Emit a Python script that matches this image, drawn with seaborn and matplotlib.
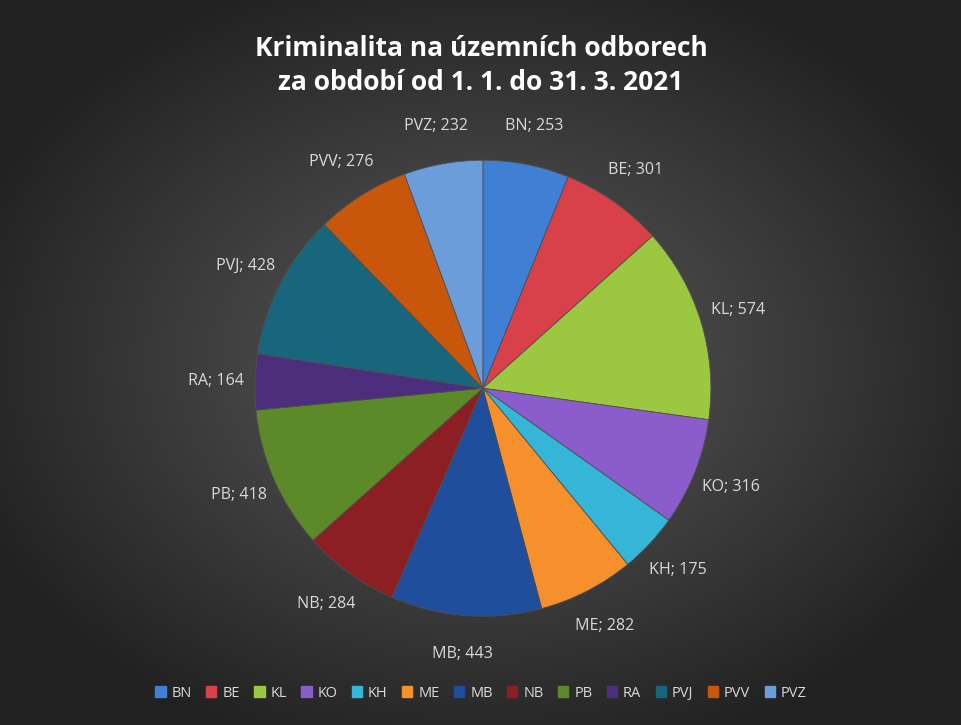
import numpy as np
import matplotlib
matplotlib.use("Agg")
import matplotlib.pyplot as plt
import seaborn as sns
from matplotlib.patches import Patch

categories = ["BN", "BE", "KL", "KO", "KH", "ME", "MB", "NB", "PB", "RA", "PVJ", "PVV", "PVZ"]
values = [253, 301, 574, 316, 175, 282, 443, 284, 418, 164, 428, 276, 232]
colors = ["#3f7fd4", "#d8404a", "#9cc741", "#8b5ccb", "#35b6d8", "#f5902c", "#1f4f9c",
          "#8c1f24", "#5d8a29", "#4c2e7c", "#17667c", "#c9570b", "#6c9ddb"]

sns.set_theme(style="white")
fig = plt.figure(figsize=(9.62, 7.25), dpi=100)

# radial gradient background
bg = fig.add_axes([0, 0, 1, 1])
yy, xx = np.mgrid[-1:1:400j, -1:1:530j]
r = np.sqrt(xx**2 + yy**2)
g = np.clip(0.36 - 0.2 * r, 0.13, 0.4)
bg.imshow(np.dstack([g, g, g]), aspect="auto", extent=[0, 1, 0, 1])
bg.axis("off")

ax = fig.add_axes([0.265, 0.15, 0.474, 0.629])
wedges, texts = ax.pie(values, colors=colors, startangle=90, counterclock=False,
                       labels=[f"{c}; {v}" for c, v in zip(categories, values)],
                       labeldistance=1.17,
                       wedgeprops=dict(edgecolor="#505050", linewidth=0.6),
                       textprops=dict(color="#d9d9d9", fontsize=11.5, family="Open Sans"))
for t in texts:
    t.set_horizontalalignment("center")
ax.set_xlim(-1, 1)
ax.set_ylim(-1, 1)
ax.set_aspect("equal")
ax.axis("off")

fig.text(0.5, 0.91, "Kriminalita na územních odborech\nza období od 1. 1. do 31. 3. 2021",
         ha="center", va="center", color="white", fontsize=19, fontweight="bold",
         family="Open Sans", linespacing=1.35)

handles = [Patch(facecolor=c, edgecolor=c, label=l) for c, l in zip(colors, categories)]
fig.legend(handles=handles, loc="center", bbox_to_anchor=(0.5, 0.044), ncol=13,
           frameon=False, handlelength=0.7, handleheight=0.7, handletextpad=0.4,
           columnspacing=1.0, labelcolor="#d9d9d9", prop=dict(family="Open Sans", size=10.5))

fig.savefig("out.png", dpi=100)
